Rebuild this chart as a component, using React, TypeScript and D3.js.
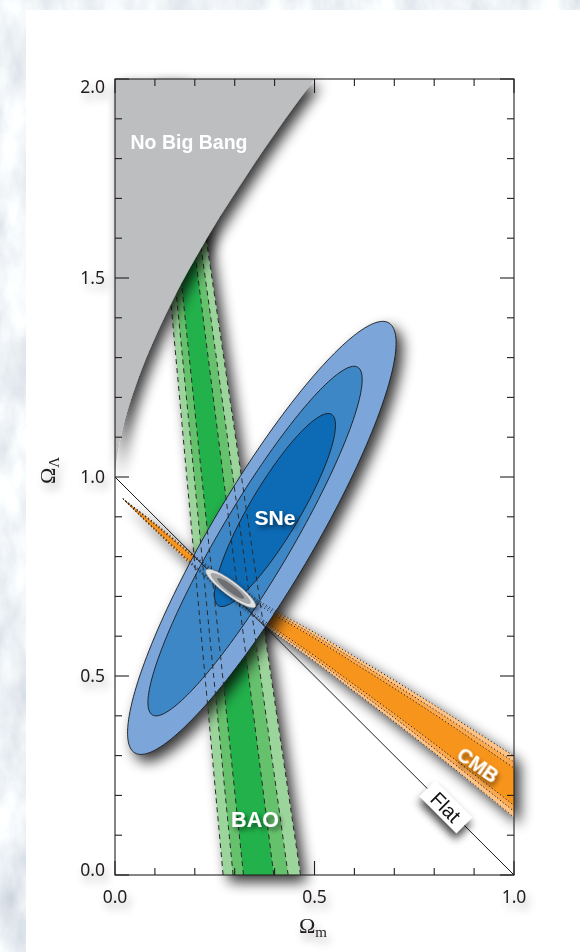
import React from 'react';
import * as d3 from 'd3';

const W = 580;
const H = 952;

// Plot frame (pixels)
const LEFT = 115;
const RIGHT = 514;
const TOP = 79;
const BOTTOM = 875;

// Tick values
const X_TICKS = [0, 0.1, 0.2, 0.3, 0.4, 0.5, 0.6, 0.7, 0.8, 0.9, 1.0];
const Y_TICKS = [0, 0.1, 0.2, 0.3, 0.4, 0.5, 0.6, 0.7, 0.8, 0.9, 1.0, 1.1, 1.2, 1.3, 1.4, 1.5, 1.6, 1.7, 1.8, 1.9, 2.0];
const X_LABELS = [0, 0.5, 1.0];
const Y_LABELS = [0, 0.5, 1.0, 1.5, 2.0];
const MAJOR = [0, 0.5, 1.0, 1.5, 2.0];

// "No Big Bang" boundary (Ωm, ΩΛ)
const NBB_OM = [0, 0.002, 0.005, 0.01, 0.02, 0.03, 0.05, 0.07, 0.1, 0.15, 0.2, 0.25, 0.3, 0.35, 0.4, 0.45, 0.5];
const NBB_OL = [1.0, 1.029, 1.051, 1.08, 1.125, 1.162, 1.224, 1.279, 1.35, 1.455, 1.547, 1.633, 1.712, 1.789, 1.862, 1.932, 2.0];

// CMB band: centre line and half widths (outer, middle, inner)
const CMB_OM = [0.02, 0.1, 0.2, 0.3, 0.4, 0.5, 0.6, 0.7, 0.8, 0.9, 1.0];
const CMB_CENTER = [0.945, 0.875, 0.787, 0.708, 0.637, 0.573, 0.505, 0.437, 0.367, 0.295, 0.222];
const CMB_HW_3 = [0, 0.009, 0.015, 0.021, 0.028, 0.036, 0.044, 0.052, 0.060, 0.068, 0.077];
const CMB_HW_2 = [0, 0.007, 0.012, 0.017, 0.023, 0.029, 0.036, 0.042, 0.049, 0.055, 0.062];
const CMB_HW_1 = [0, 0.005, 0.009, 0.013, 0.017, 0.022, 0.027, 0.032, 0.037, 0.042, 0.047];
const CMB_COLORS = ['#fdc286', '#fba94f', '#f7941d'];

// BAO band: Ωm of left/right edges at ΩΛ = 0 and ΩΛ = 2
const BAO_OL = [0, 2];
const BAO_LEFT_3 = [0.271, 0.089];
const BAO_RIGHT_3 = [0.465, 0.169];
const BAO_LEFT_2 = [0.296, 0.101];
const BAO_RIGHT_2 = [0.434, 0.157];
const BAO_LEFT_1 = [0.322, 0.113];
const BAO_RIGHT_1 = [0.398, 0.145];
const BAO_COLORS = ['#9cd59b', '#66c16d', '#22b14c'];

// SNe confidence ellipses (outer, middle, inner)
const SNE_CENTER_OM = [0.368, 0.351, 0.401];
const SNE_CENTER_OL = [0.847, 0.839, 0.917];
const SNE_SEMI_MAJOR = [0.627, 0.507, 0.279];
const SNE_SEMI_MINOR = [0.127, 0.089, 0.063];
const SNE_TILT = 59.5;
const SNE_COLORS = ['#7ba6da', '#3d87c7', '#0d6ab5'];

// Combined constraint (outer, middle, inner)
const JOINT_CENTER = [0.29, 0.72];
const JOINT_SEMI_MAJOR = [0.077, 0.062, 0.042];
const JOINT_SEMI_MINOR = [0.018, 0.0135, 0.0085];
const JOINT_TILT = -37;
const JOINT_COLORS = ['#e2e2e3', '#a4a5a7', '#6d6e71'];

// Flat universe line
const FLAT_OM = [0, 1];
const FLAT_OL = [1, 0];

const x = d3.scaleLinear().domain([0, 1]).range([LEFT, RIGHT]);
const y = d3.scaleLinear().domain([0, 2]).range([BOTTOM, TOP]);

type P = [number, number];
const lin = d3.line<P>().x((d) => x(d[0])).y((d) => y(d[1]));
const smooth = d3.line<P>().x((d) => x(d[0])).y((d) => y(d[1])).curve(d3.curveCatmullRom);
const closed = d3.line<P>().x((d) => x(d[0])).y((d) => y(d[1])).curve(d3.curveLinearClosed);

function ellipse(cx: number, cy: number, a: number, b: number, tilt: number): string {
  const th = (tilt * Math.PI) / 180;
  const pts: P[] = d3.range(0, 360, 2).map((t) => {
    const r = (t * Math.PI) / 180;
    const dx = a * Math.cos(r);
    const dy = b * Math.sin(r);
    return [cx + dx * Math.cos(th) - dy * Math.sin(th), cy + dx * Math.sin(th) + dy * Math.cos(th)];
  });
  return closed(pts) as string;
}

function cmbEdges(hw: number[]): [P[], P[]] {
  const upper: P[] = CMB_OM.map((m, i) => [m, CMB_CENTER[i] + hw[i]]);
  const lower: P[] = CMB_OM.map((m, i) => [m, CMB_CENTER[i] - hw[i]]);
  return [upper, lower];
}

function bandPath(a: P[], b: P[]): string {
  const p1 = smooth(a) as string;
  const p2 = (smooth(b.slice().reverse()) as string).replace(/^M/, 'L');
  return p1 + p2 + 'Z';
}

function baoEdges(left: number[], right: number[]): [P[], P[]] {
  const l: P[] = BAO_OL.map((ol, i) => [left[i], ol]);
  const r: P[] = BAO_OL.map((ol, i) => [right[i], ol]);
  return [l, r];
}

const CMB_SETS = [CMB_HW_3, CMB_HW_2, CMB_HW_1].map(cmbEdges);
const BAO_SETS = [
  baoEdges(BAO_LEFT_3, BAO_RIGHT_3),
  baoEdges(BAO_LEFT_2, BAO_RIGHT_2),
  baoEdges(BAO_LEFT_1, BAO_RIGHT_1),
];

const nbbBoundary: P[] = NBB_OM.map((m, i) => [m, NBB_OL[i]]);
const nbbPath =
  (d3.line<P>().x((d) => x(d[0])).y((d) => y(d[1])).curve(d3.curveMonotoneX)(nbbBoundary) as string) +
  `L${x(0.5)},${y(2.05)}L${x(-0.05)},${y(2.05)}L${x(-0.05)},${y(1)}Z`;

const axisFont = "'Noto Sans', 'Open Sans', sans-serif";
const labelFont = "'Liberation Sans', Arial, Helvetica, sans-serif";
const serif = "'Liberation Serif', 'Times New Roman', serif";

export default function App() {
  const fmt = d3.format('.1f');
  return (
    <svg
      width={W}
      height={H}
      viewBox={`0 0 ${W} ${H}`}
      style={{ position: 'absolute', left: 0, top: 0, display: 'block' }}
    >
      <defs>
        <filter id="paper" filterUnits="userSpaceOnUse" x={0} y={0} width={W} height={H}>
          <feTurbulence type="fractalNoise" baseFrequency="0.03 0.015" numOctaves={5} seed={7} />
          <feColorMatrix
            type="matrix"
            values="0.6 0 0 0 0.56  0.55 0 0 0 0.62  0.45 0 0 0 0.7  0 0 0 0 1"
          />
        </filter>
        <filter id="shadow" filterUnits="userSpaceOnUse" x={0} y={0} width={W} height={H}>
          <feGaussianBlur in="SourceAlpha" stdDeviation={7} />
          <feOffset dx={6} dy={7} />
          <feComponentTransfer>
            <feFuncA type="linear" slope={0.8} />
          </feComponentTransfer>
          <feMerge>
            <feMergeNode />
            <feMergeNode in="SourceGraphic" />
          </feMerge>
        </filter>
        <filter id="tshadow" x="-60%" y="-60%" width="220%" height="220%">
          <feGaussianBlur in="SourceAlpha" stdDeviation={2.5} />
          <feOffset dx={3} dy={3} />
          <feComponentTransfer>
            <feFuncA type="linear" slope={0.55} />
          </feComponentTransfer>
          <feMerge>
            <feMergeNode />
            <feMergeNode in="SourceGraphic" />
          </feMerge>
        </filter>
        <filter id="boxshadow" x="-80%" y="-80%" width="260%" height="260%">
          <feGaussianBlur in="SourceAlpha" stdDeviation={4.5} />
          <feOffset dx={4} dy={5} />
          <feComponentTransfer>
            <feFuncA type="linear" slope={0.75} />
          </feComponentTransfer>
          <feMerge>
            <feMergeNode />
            <feMergeNode in="SourceGraphic" />
          </feMerge>
        </filter>
        <filter id="haze" filterUnits="userSpaceOnUse" x={0} y={0} width={W} height={H}>
          <feGaussianBlur in="SourceAlpha" stdDeviation={5} />
          <feOffset dx={3} dy={6} />
          <feComponentTransfer>
            <feFuncA type="linear" slope={0.35} />
          </feComponentTransfer>
          <feMerge>
            <feMergeNode />
            <feMergeNode in="SourceGraphic" />
          </feMerge>
        </filter>
        <clipPath id="plot">
          <rect x={LEFT} y={TOP} width={RIGHT - LEFT} height={BOTTOM - TOP} />
        </clipPath>
      </defs>

      {/* paper background and white sheet */}
      <rect x={0} y={0} width={W} height={H} fill="#d9e2eb" />
      <rect x={0} y={0} width={W} height={H} filter="url(#paper)" />
      <rect x={26} y={10} width={W} height={H} fill="#ffffff" />

      {/* BAO band */}
      <g filter="url(#shadow)">
        <g clipPath="url(#plot)">
          {BAO_SETS.map(([l, r], i) => (
            <path key={i} d={bandPath(l, r)} fill={BAO_COLORS[i]} />
          ))}
        </g>
      </g>

      {/* CMB band */}
      <g filter="url(#shadow)">
        <g clipPath="url(#plot)">
          {CMB_SETS.map(([u, l], i) => (
            <path key={i} d={bandPath(u, l)} fill={CMB_COLORS[i]} />
          ))}
        </g>
      </g>

      {/* SNe contours */}
      <g filter="url(#shadow)">
        <g clipPath="url(#plot)">
          {SNE_COLORS.map((c, i) => (
            <path
              key={i}
              d={ellipse(SNE_CENTER_OM[i], SNE_CENTER_OL[i], SNE_SEMI_MAJOR[i], SNE_SEMI_MINOR[i], SNE_TILT)}
              fill={c}
              stroke="#1a1a1a"
              strokeWidth={0.9}
            />
          ))}
        </g>
      </g>

      {/* contour edge lines */}
      <g clipPath="url(#plot)" fill="none">
        {BAO_SETS.map(([l, r], i) => (
          <g key={i} stroke="#2b2b2b" strokeWidth={1} strokeDasharray="5 4">
            <path d={lin(l) as string} />
            <path d={lin(r) as string} />
          </g>
        ))}
        {CMB_SETS.map(([u, l], i) => (
          <g key={i} stroke="#222" strokeWidth={1} strokeDasharray="1.2 2.3">
            <path d={smooth(u) as string} />
            <path d={smooth(l) as string} />
          </g>
        ))}
        <path
          d={lin(FLAT_OM.map((m, i) => [m, FLAT_OL[i]] as P)) as string}
          stroke="#1a1a1a"
          strokeWidth={1}
        />
      </g>

      {/* combined constraint */}
      <g filter="url(#tshadow)">
        {JOINT_COLORS.map((c, i) => (
          <path
            key={i}
            d={ellipse(JOINT_CENTER[0], JOINT_CENTER[1], JOINT_SEMI_MAJOR[i], JOINT_SEMI_MINOR[i], JOINT_TILT)}
            fill={c}
            stroke={i === 0 ? '#8a8b8d' : 'none'}
            strokeWidth={0.6}
          />
        ))}
      </g>

      {/* No Big Bang region */}
      <g filter="url(#shadow)">
        <g clipPath="url(#plot)">
          <path d={nbbPath} fill="#bcbec0" />
        </g>
      </g>

      {/* frame and ticks */}
      <g stroke="#231f20" strokeWidth={1.1} fill="none">
        <rect x={LEFT} y={TOP} width={RIGHT - LEFT} height={BOTTOM - TOP} />
        {X_TICKS.map((t) => {
          const len = MAJOR.includes(t) ? 14 : 7;
          return (
            <g key={'x' + t}>
              <line x1={x(t)} x2={x(t)} y1={BOTTOM} y2={BOTTOM - len} />
              <line x1={x(t)} x2={x(t)} y1={TOP} y2={TOP + len} />
            </g>
          );
        })}
        {Y_TICKS.map((t) => {
          const len = MAJOR.includes(t) ? 14 : 7;
          return (
            <g key={'y' + t}>
              <line x1={LEFT} x2={LEFT + len} y1={y(t)} y2={y(t)} />
              <line x1={RIGHT} x2={RIGHT - len} y1={y(t)} y2={y(t)} />
            </g>
          );
        })}
      </g>

      {/* tick labels and axis titles */}
      <g filter="url(#haze)" fill="#231f20" fontFamily={axisFont} fontSize={17.5}>
        {X_LABELS.map((t) => (
          <text key={'xl' + t} x={x(t)} y={903} textAnchor="middle">
            {fmt(t)}
          </text>
        ))}
        {Y_LABELS.map((t) => {
          let cy = y(t);
          if (t === 2) cy = TOP + 7.5;
          if (t === 0) cy = BOTTOM - 5.5;
          return (
            <text key={'yl' + t} x={105} y={cy} dy="0.36em" textAnchor="end">
              {fmt(t)}
            </text>
          );
        })}
        <text x={299} y={933} fontFamily={serif} fontSize={22}>
          Ω<tspan fontSize={15} dy={4}>m</tspan>
        </text>
        <text x={0} y={0} fontFamily={serif} fontSize={22} transform="translate(55,484) rotate(-90)">
          Ω<tspan fontSize={15} dy={4}>Λ</tspan>
        </text>
      </g>

      {/* region labels */}
      <g fontFamily={labelFont} fontWeight="bold" fill="#ffffff" textAnchor="middle">
        <text x={189} y={142} dy="0.36em" fontSize={19.5}>
          No Big Bang
        </text>
        <text x={275} y={517} dy="0.36em" fontSize={21} filter="url(#tshadow)">
          SNe
        </text>
        <text x={255} y={819} dy="0.36em" fontSize={21.5} filter="url(#tshadow)">
          BAO
        </text>
        <g transform="translate(478,765) rotate(35)">
          <text x={0} y={0} dy="0.36em" fontSize={20} filter="url(#tshadow)">
            CMB
          </text>
        </g>
      </g>

      {/* Flat label */}
      <g transform={`translate(${x(0.829)},${y(0.171)}) rotate(45)`}>
        <rect x={-26} y={-11} width={52} height={22} fill="#ffffff" filter="url(#boxshadow)" />
        <text x={0} y={0} dy="0.36em" textAnchor="middle" fontFamily={labelFont} fontSize={20} fill="#111">
          Flat
        </text>
      </g>
    </svg>
  );
}
